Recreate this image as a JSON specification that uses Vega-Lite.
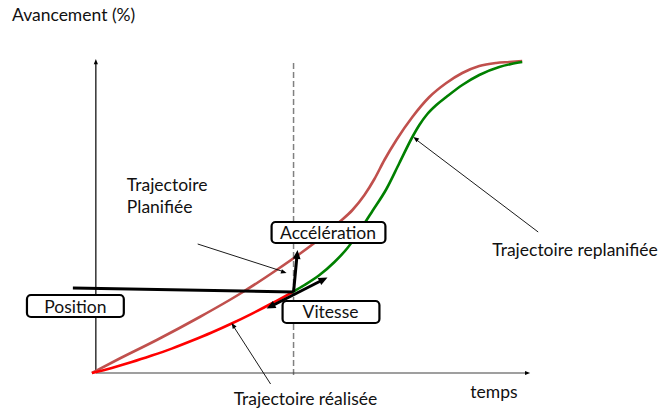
{
  "$schema": "https://vega.github.io/schema/vega-lite/v6.json",
  "width": 658,
  "height": 412,
  "autosize": {"type": "fit", "contains": "padding"},
  "padding": 0,
  "background": "white",
  "config": {"view": {"stroke": null}},
  "datasets": {
    "curves": [
      {"s": "planned", "x": 92, "y": 373},
      {"s": "planned", "x": 117, "y": 360},
      {"s": "planned", "x": 157, "y": 340},
      {"s": "planned", "x": 200, "y": 317},
      {"s": "planned", "x": 240, "y": 294},
      {"s": "planned", "x": 277, "y": 270},
      {"s": "planned", "x": 300, "y": 254},
      {"s": "planned", "x": 320, "y": 239},
      {"s": "planned", "x": 340, "y": 222},
      {"s": "planned", "x": 353, "y": 210},
      {"s": "planned", "x": 365, "y": 195},
      {"s": "planned", "x": 375, "y": 179},
      {"s": "planned", "x": 385, "y": 160},
      {"s": "planned", "x": 397, "y": 140},
      {"s": "planned", "x": 413, "y": 117},
      {"s": "planned", "x": 430, "y": 97},
      {"s": "planned", "x": 447, "y": 83},
      {"s": "planned", "x": 463, "y": 73},
      {"s": "planned", "x": 480, "y": 66},
      {"s": "planned", "x": 497, "y": 63},
      {"s": "planned", "x": 510, "y": 62},
      {"s": "planned", "x": 523, "y": 61},
      {"s": "realized", "x": 92, "y": 373},
      {"s": "realized", "x": 112, "y": 367.9},
      {"s": "realized", "x": 132, "y": 362.1},
      {"s": "realized", "x": 152, "y": 355.6},
      {"s": "realized", "x": 172, "y": 348.6},
      {"s": "realized", "x": 192, "y": 340.8},
      {"s": "realized", "x": 212, "y": 332.5},
      {"s": "realized", "x": 232, "y": 323.5},
      {"s": "realized", "x": 252, "y": 313.8},
      {"s": "realized", "x": 272, "y": 303.5},
      {"s": "realized", "x": 293, "y": 292},
      {"s": "replanned", "x": 293, "y": 292},
      {"s": "replanned", "x": 305, "y": 285},
      {"s": "replanned", "x": 320, "y": 275},
      {"s": "replanned", "x": 335, "y": 262},
      {"s": "replanned", "x": 348, "y": 248},
      {"s": "replanned", "x": 360, "y": 231},
      {"s": "replanned", "x": 373, "y": 211},
      {"s": "replanned", "x": 387, "y": 189},
      {"s": "replanned", "x": 400, "y": 163},
      {"s": "replanned", "x": 413, "y": 137},
      {"s": "replanned", "x": 420, "y": 125},
      {"s": "replanned", "x": 428, "y": 114},
      {"s": "replanned", "x": 437, "y": 105},
      {"s": "replanned", "x": 447, "y": 97},
      {"s": "replanned", "x": 463, "y": 85},
      {"s": "replanned", "x": 480, "y": 75},
      {"s": "replanned", "x": 500, "y": 67},
      {"s": "replanned", "x": 512, "y": 64},
      {"s": "replanned", "x": 523, "y": 62}
    ],
    "segments": [
      {"k": "yaxis", "x": 96, "y": 373, "x2": 96, "y2": 62},
      {"k": "xaxis", "x": 96, "y": 373, "x2": 528, "y2": 373},
      {"k": "dash", "x": 294, "y": 63, "x2": 294, "y2": 375},
      {"k": "thin", "x": 198, "y": 244, "x2": 285, "y2": 272},
      {"k": "thin", "x": 271, "y": 384, "x2": 233, "y2": 325},
      {"k": "thin", "x": 539, "y": 232, "x2": 416, "y2": 139},
      {"k": "thick", "x": 73, "y": 288, "x2": 294, "y2": 292},
      {"k": "thick", "x": 294, "y": 292, "x2": 297.5, "y2": 255},
      {"k": "thick", "x": 272, "y": 306, "x2": 323, "y2": 280}
    ],
    "heads": [
      {"k": "axis", "x": 96, "y": 59, "fx": 96, "fy": 373},
      {"k": "axis", "x": 531, "y": 373, "fx": 96, "fy": 373},
      {"k": "thin", "x": 287, "y": 273, "fx": 198, "fy": 244},
      {"k": "thin", "x": 232, "y": 323, "fx": 271, "fy": 384},
      {"k": "thin", "x": 414, "y": 137, "fx": 539, "fy": 232},
      {"k": "thick", "x": 298, "y": 250, "fx": 294, "fy": 292},
      {"k": "thick", "x": 328, "y": 277.5, "fx": 268, "fy": 308},
      {"k": "thick", "x": 267, "y": 308.5, "fx": 327, "fy": 278}
    ],
    "boxes": [
      {"t": "Accélération", "x": 272, "x2": 386, "y": 222, "y2": 243},
      {"t": "Position", "x": 27, "x2": 124, "y": 295, "y2": 317},
      {"t": "Vitesse", "x": 283, "x2": 380, "y": 301, "y2": 323}
    ],
    "boxlabels": [
      {"t": "Accélération", "x": 328.5, "y": 238.5},
      {"t": "Position", "x": 75.5, "y": 312.5},
      {"t": "Vitesse", "x": 331, "y": 317.5}
    ],
    "labels": [
      {"t": "Avancement (%)", "x": 12, "y": 21},
      {"t": "temps", "x": 471, "y": 398},
      {"t": "Trajectoire réalisée", "x": 234, "y": 404.5},
      {"t": "Trajectoire replanifiée", "x": 493, "y": 256},
      {"t": "Trajectoire", "x": 127, "y": 191},
      {"t": "Planifiée", "x": 127, "y": 212.5}
    ]
  },
  "encoding": {
    "x": {"field": "x", "type": "quantitative", "scale": {"domain": [0, 658], "nice": false, "zero": false}, "axis": null},
    "y": {"field": "y", "type": "quantitative", "scale": {"domain": [0, 412], "nice": false, "zero": false, "reverse": true}, "axis": null}
  },
  "layer": [
    {
      "data": {"name": "segments"},
      "transform": [{"filter": "datum.k == 'dash'"}],
      "mark": {"type": "rule", "color": "#808080", "strokeWidth": 1.5, "strokeDash": [6, 3]},
      "encoding": {"x2": {"field": "x2"}, "y2": {"field": "y2"}}
    },
    {
      "data": {"name": "segments"},
      "transform": [{"filter": "datum.k == 'yaxis'"}],
      "mark": {"type": "rule", "color": "#000000", "strokeWidth": 1.2},
      "encoding": {"x2": {"field": "x2"}, "y2": {"field": "y2"}}
    },
    {
      "data": {"name": "segments"},
      "transform": [{"filter": "datum.k == 'xaxis'"}],
      "mark": {"type": "rule", "color": "#404040", "strokeWidth": 1.2},
      "encoding": {"x2": {"field": "x2"}, "y2": {"field": "y2"}}
    },
    {
      "data": {"name": "curves"},
      "mark": {"type": "line", "strokeWidth": 2.6, "interpolate": "monotone"},
      "encoding": {
        "color": {"field": "s", "type": "nominal", "scale": {"domain": ["planned", "realized", "replanned"], "range": ["#C0504D", "#FF0000", "#008000"]}, "legend": null},
        "order": {"field": "x", "type": "quantitative"}
      }
    },
    {
      "data": {"name": "segments"},
      "transform": [{"filter": "datum.k == 'thin'"}],
      "mark": {"type": "rule", "color": "#000000", "strokeWidth": 0.9},
      "encoding": {"x2": {"field": "x2"}, "y2": {"field": "y2"}}
    },
    {
      "data": {"name": "segments"},
      "transform": [{"filter": "datum.k == 'thick'"}],
      "mark": {"type": "rule", "color": "#000000", "strokeWidth": 3},
      "encoding": {"x2": {"field": "x2"}, "y2": {"field": "y2"}}
    },
    {
      "data": {"name": "heads"},
      "transform": [
        {"filter": "datum.k == 'axis'"},
        {"calculate": "atan2(datum.x - datum.fx, datum.fy - datum.y) * 180 / PI", "as": "ang"}
      ],
      "mark": {"type": "point", "shape": "M0,0L-1.2,3L1.2,3Z", "filled": true, "color": "#000000", "opacity": 1, "size": 12, "strokeWidth": 0},
      "encoding": {"angle": {"field": "ang", "type": "quantitative", "scale": null}}
    },
    {
      "data": {"name": "heads"},
      "transform": [
        {"filter": "datum.k == 'thin'"},
        {"calculate": "atan2(datum.x - datum.fx, datum.fy - datum.y) * 180 / PI", "as": "ang"}
      ],
      "mark": {"type": "point", "shape": "M0,0L-1.2,3L1.2,3Z", "filled": true, "color": "#000000", "opacity": 1, "size": 14, "strokeWidth": 0},
      "encoding": {"angle": {"field": "ang", "type": "quantitative", "scale": null}}
    },
    {
      "data": {"name": "heads"},
      "transform": [
        {"filter": "datum.k == 'thick'"},
        {"calculate": "atan2(datum.x - datum.fx, datum.fy - datum.y) * 180 / PI", "as": "ang"}
      ],
      "mark": {"type": "point", "shape": "M0,0L-1.3,3L1.3,3Z", "filled": true, "color": "#000000", "opacity": 1, "size": 36, "strokeWidth": 0},
      "encoding": {"angle": {"field": "ang", "type": "quantitative", "scale": null}}
    },
    {
      "data": {"name": "boxes"},
      "mark": {"type": "rect", "fill": "#ffffff", "stroke": "#000000", "strokeWidth": 2.2, "cornerRadius": 4},
      "encoding": {"x2": {"field": "x2"}, "y2": {"field": "y2"}}
    },
    {
      "data": {"name": "boxlabels"},
      "mark": {"type": "text", "font": "Lato", "fontSize": 17.5, "color": "#111111", "align": "center", "baseline": "alphabetic"},
      "encoding": {"text": {"field": "t"}}
    },
    {
      "data": {"name": "labels"},
      "mark": {"type": "text", "font": "Lato", "fontSize": 17.5, "color": "#111111", "align": "left", "baseline": "alphabetic"},
      "encoding": {"text": {"field": "t"}}
    }
  ]
}
